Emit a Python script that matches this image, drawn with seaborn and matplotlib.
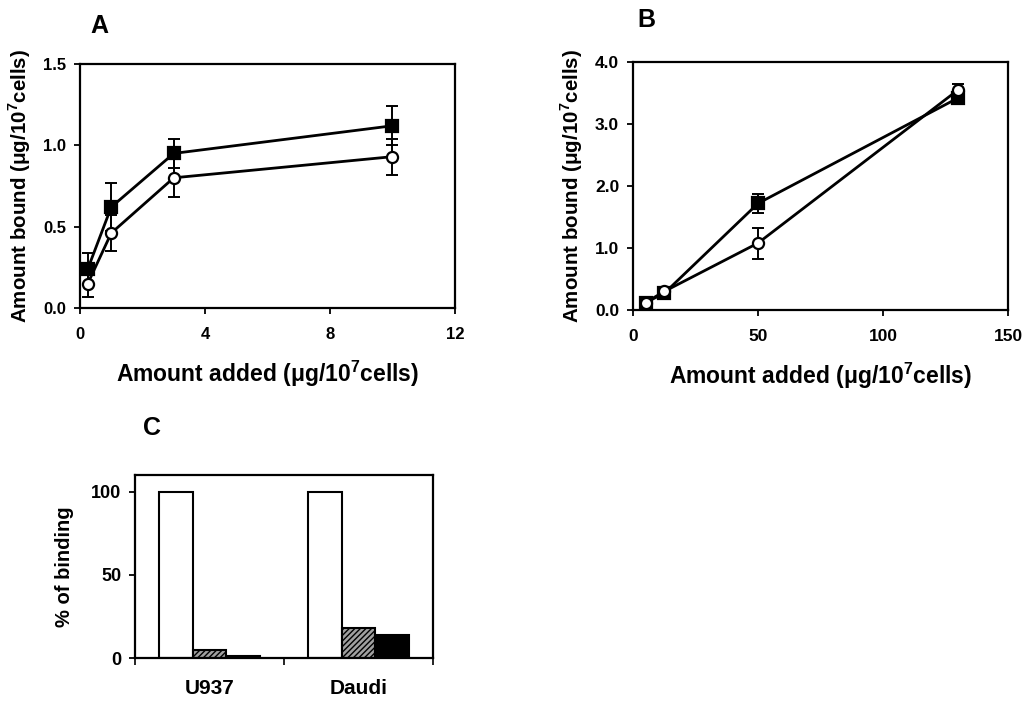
import numpy as np
import pandas as pd
import matplotlib
matplotlib.use("Agg")
import matplotlib.pyplot as plt
import seaborn as sns

# ---- data ----
# panel A
a_added = [0.25, 1, 3, 10]
a_filled = [0.24, 0.62, 0.95, 1.12]
a_filled_err = [0.10, 0.15, 0.09, 0.12]
a_open = [0.15, 0.46, 0.80, 0.93]
a_open_err = [0.08, 0.11, 0.12, 0.11]

# panel B
b_added = [5, 12.5, 50, 130]
b_filled = [0.12, 0.27, 1.72, 3.42]
b_filled_err = [0.03, 0.04, 0.15, 0.05]
b_open = [0.12, 0.30, 1.08, 3.55]
b_open_err = [0.03, 0.03, 0.25, 0.10]

# panel C
cells = ["U937", "Daudi"]
treatments = ["control", "competitor 1", "competitor 2"]
pct_binding = {
    "control": [100, 100],
    "competitor 1": [5, 18],
    "competitor 2": [1.5, 14],
}

sns.set_style("ticks")
plt.rcParams["font.family"] = ["Liberation Sans", "DejaVu Sans"]
plt.rcParams["font.weight"] = "bold"
plt.rcParams["axes.labelweight"] = "bold"
plt.rcParams["axes.linewidth"] = 1.6
plt.rcParams["axes.edgecolor"] = "black"
plt.rcParams["text.color"] = "black"
plt.rcParams["axes.labelcolor"] = "black"
plt.rcParams["xtick.color"] = "black"
plt.rcParams["ytick.color"] = "black"
plt.rcParams["hatch.color"] = "#4a4a4a"

fig = plt.figure(figsize=(10.28, 7.03), dpi=100)

xlabel = r"Amount added ($\mathregular{\mu}$g/10$^{\mathregular{7}}$cells)"
ylabel = r"Amount bound ($\mathregular{\mu}$g/10$^{\mathregular{7}}$cells)"


def draw_curve(ax, x, y, err, marker, face):
    sns.lineplot(x=x, y=y, ax=ax, color="black", linewidth=2.0, marker=marker,
                 markersize=8, markerfacecolor=face, markeredgecolor="black",
                 markeredgewidth=1.6, zorder=3)
    ax.errorbar(x, y, yerr=err, fmt="none", ecolor="black", elinewidth=1.4,
                capsize=4, capthick=1.4, zorder=2)


def style_axes(ax, size):
    for s in ax.spines.values():
        s.set_visible(True)
        s.set_color("black")
    ax.tick_params(axis="both", direction="out", length=4, width=1.3,
                   labelsize=size, colors="black")
    ax.tick_params(axis="x", pad=10)
    ax.tick_params(axis="y", pad=6)
    for lab in ax.get_xticklabels() + ax.get_yticklabels():
        lab.set_fontweight("bold")


# ---- panel A ----
axA = fig.add_axes([0.0778, 0.562, 0.3648, 0.347])
draw_curve(axA, a_added, a_filled, a_filled_err, "s", "black")
draw_curve(axA, a_added, a_open, a_open_err, "o", "white")
axA.set_xlim(0, 12)
axA.set_ylim(0, 1.5)
axA.set_xticks([0, 4, 8, 12])
axA.set_yticks([0, 0.5, 1.0, 1.5])
axA.set_yticklabels(["0.0", "0.5", "1.0", "1.5"])
axA.set_xlabel(xlabel, fontsize=16.5, labelpad=12)
axA.set_ylabel(ylabel, fontsize=14.8, labelpad=7)
style_axes(axA, 12)
fig.text(0.097, 0.963, "A", fontsize=18, fontweight="bold", ha="center", va="center")

# ---- panel B ----
axB = fig.add_axes([0.6158, 0.559, 0.3648, 0.3528])
draw_curve(axB, b_added, b_filled, b_filled_err, "s", "black")
draw_curve(axB, b_added, b_open, b_open_err, "o", "white")
axB.set_xlim(0, 150)
axB.set_ylim(0, 4.0)
axB.set_xticks([0, 50, 100, 150])
axB.set_yticks([0, 1, 2, 3, 4])
axB.set_yticklabels(["0.0", "1.0", "2.0", "3.0", "4.0"])
axB.set_xlabel(xlabel, fontsize=16.5, labelpad=12)
axB.set_ylabel(ylabel, fontsize=14.8, labelpad=7)
style_axes(axB, 12.5)
fig.text(0.629, 0.972, "B", fontsize=18, fontweight="bold", ha="center", va="center")

# ---- panel C ----
df = pd.DataFrame([(c, t, pct_binding[t][i]) for t in treatments
                   for i, c in enumerate(cells)],
                  columns=["cell", "treatment", "pct"])
axC = fig.add_axes([0.1313, 0.064, 0.2899, 0.2603])
sns.barplot(data=df, x="cell", y="pct", hue="treatment", order=cells,
            hue_order=treatments, palette=["white", "#a0a0a0", "black"],
            width=0.68, edgecolor="black", linewidth=1.5, ax=axC, legend=False)
for p in axC.patches[len(cells):2 * len(cells)]:
    p.set_hatch("//////")
axC.set_xlim(-0.5, 1.5)
axC.set_ylim(0, 110)
axC.set_yticks([0, 50, 100])
axC.set_xlabel("")
axC.set_ylabel("% of binding", fontsize=14.5, labelpad=12)
style_axes(axC, 13)
axC.set_xticks([-0.5, 0.5, 1.5], minor=True)
axC.tick_params(axis="x", which="major", length=0, pad=15, labelsize=15)
axC.tick_params(axis="x", which="minor", length=5, width=1.2, direction="out")
for lab in axC.get_xticklabels():
    lab.set_fontweight("bold")
fig.text(0.148, 0.391, "C", fontsize=18, fontweight="bold", ha="center", va="center")

fig.savefig("out.png", dpi=100, facecolor="white")
